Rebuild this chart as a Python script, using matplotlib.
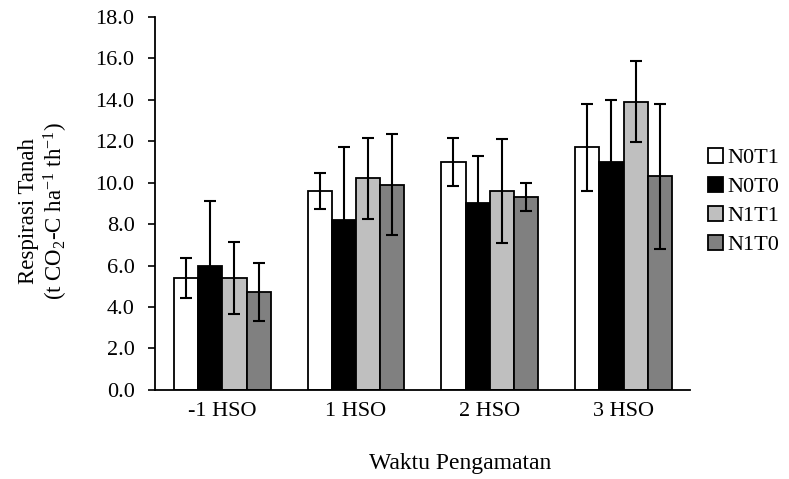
import matplotlib
matplotlib.use("Agg")
import matplotlib.pyplot as plt
import numpy as np

plt.rcParams['font.family'] = ['Liberation Serif', 'DejaVu Serif']
plt.rcParams['mathtext.fontset'] = 'custom'
plt.rcParams['mathtext.rm'] = 'Liberation Serif'
plt.rcParams['mathtext.it'] = 'Liberation Serif:italic'

# Data
categories = ["-1 HSO", "1 HSO", "2 HSO", "3 HSO"]
series = ["N0T1", "N0T0", "N1T1", "N1T0"]
means = {
    "N0T1": [5.4, 9.6, 11.0, 11.7],
    "N0T0": [6.0, 8.2, 9.0, 11.0],
    "N1T1": [5.4, 10.2, 9.6, 13.9],
    "N1T0": [4.7, 9.9, 9.3, 10.3],
}
errors = {
    "N0T1": [0.95, 0.85, 1.15, 2.1],
    "N0T0": [3.1, 3.5, 2.3, 3.0],
    "N1T1": [1.75, 1.95, 2.5, 1.95],
    "N1T0": [1.4, 2.45, 0.67, 3.5],
}
colors = ["#ffffff", "#000000", "#bfbfbf", "#808080"]

fig = plt.figure(figsize=(7.89, 4.79), dpi=100)
ax = fig.add_axes([0.197, 0.186, 0.678, 0.779])

x = np.arange(len(categories))
width = 0.181
for i, name in enumerate(series):
    pos = x + (i - 1.5) * width
    ax.bar(pos, means[name], width, color=colors[i], edgecolor="black",
           linewidth=1.3, label=name, zorder=2)
    ax.errorbar(pos, means[name], yerr=errors[name], fmt="none",
                ecolor="black", elinewidth=1.5, capsize=4, capthick=1.5, zorder=3)

yt = np.arange(0, 18.1, 2)
ax.set_xlim(-0.5, 3.5)
ax.set_ylim(0, 18)
ax.set_yticks(yt)
ax.set_yticklabels([f"{v:.1f}" for v in yt])
ax.set_xticks(x)
ax.set_xticklabels(categories)
ax.tick_params(axis="y", direction="out", length=5, width=1.2, pad=10, labelsize=16)
ax.tick_params(axis="x", length=0, pad=9, labelsize=16)
ax.spines["top"].set_visible(False)
ax.spines["right"].set_visible(False)
ax.spines["left"].set_linewidth(1.3)
ax.spines["bottom"].set_linewidth(1.3)

fig.text(0.056, 0.56, "Respirasi Tanah\n(t CO$_2$-C ha$^{-1}$ th$^{-1}$)",
         rotation=90, ha="center", va="center", multialignment="center",
         fontsize=16.5, linespacing=1.15)
fig.text(0.583, 0.01, "Waktu Pengamatan", ha="center", va="bottom", fontsize=17)

ax.legend(loc="center left", bbox_to_anchor=(1.0, 0.505), frameon=False,
          fontsize=16, handlelength=0.65, handleheight=0.65, handletextpad=0.2,
          labelspacing=0.4, borderaxespad=0.4)

plt.savefig("out.png", dpi=100)
